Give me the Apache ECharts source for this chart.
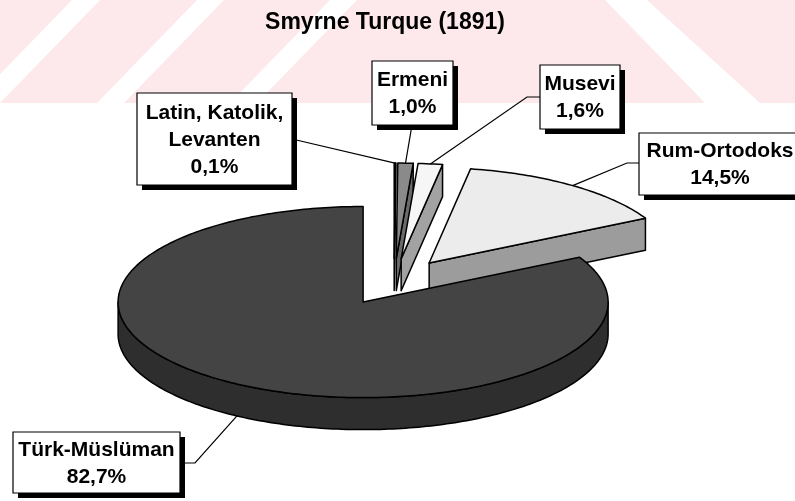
<!DOCTYPE html>
<html>
<head>
<meta charset="utf-8">
<script src="https://cdn.jsdelivr.net/npm/echarts@6/dist/echarts.min.js"></script>
<style>
  html, body { margin: 0; padding: 0; background: #fff; }
  #chart { width: 795px; height: 501px; }
</style>
</head>
<body>
<div id="chart"></div>
<script>
// data
const categories = ['Latin, Katolik,\nLevanten', 'Ermeni', 'Musevi', 'Rum-Ortodoks', 'Türk-Müslüman'];
const shares = [0.1, 1.0, 1.6, 14.5, 82.7];

// looks
const topColors = ['#1e1e1e', '#8a8a8a', '#f6f6f6', '#ececec', '#444444'];
const sideColors = ['#111111', '#6a6a6a', '#a2a2a2', '#9c9c9c', '#2e2e2e'];

// pie geometry (pixels): centre, radius, tilt, explode distance, thickness
const PIE = { cx: 394, cy: 282, r: 245, k: 0.39, explode: 60, depth: 32 };

// label boxes, the point where the leader leaves the box, optional elbow
const LABELS = [
    { x: 137, y: 93, w: 155, h: 92, from: [292, 139] },
    { x: 372, y: 61, w: 81, h: 64, from: [412, 125] },
    { x: 540, y: 65, w: 80, h: 64, from: [540, 97], elbow: [527, 97] },
    { x: 639, y: 133, w: 162, h: 62, from: [639, 163], elbow: [627, 163] },
    { x: 13, y: 432, w: 167, h: 61, from: [180, 463], elbow: [195, 463] }
];

const total = shares.reduce((a, b) => a + b, 0);
const starts = [], ends = [];
let acc = 0;
shares.forEach(v => {
    starts.push(acc / total * Math.PI * 2);
    acc += v;
    ends.push(acc / total * Math.PI * 2);
});

function pt(cx, cy, rad, a, dz) {
    return [cx + rad * Math.sin(a), cy - PIE.k * rad * Math.cos(a) + (dz || 0)];
}

function arc(cx, cy, a0, a1, dz) {
    const n = Math.max(2, Math.ceil((a1 - a0) / (Math.PI / 180)));
    const pts = [];
    for (let i = 0; i <= n; i++) {
        pts.push(pt(cx, cy, PIE.r, a0 + (a1 - a0) * i / n, dz));
    }
    return pts;
}

function fmt(v) {
    return v.toFixed(1).replace('.', ',') + '%';
}

function renderItem(params, api) {
    const i = params.dataIndex;
    const a0 = starts[i], a1 = ends[i];
    const mid = (a0 + a1) / 2;
    const c = pt(PIE.cx, PIE.cy, PIE.explode, mid);
    const cx = c[0], cy = c[1], T = PIE.depth, R = PIE.r;
    const side = { fill: sideColors[i], stroke: '#000', lineWidth: 1.5, lineJoin: 'round' };
    const top = { fill: topColors[i], stroke: '#000', lineWidth: 1.5, lineJoin: 'round' };
    const children = [];

    // radial walls that face the viewer
    if (Math.sin(a0) < -1e-6) {
        children.push({ type: 'polygon', shape: { points: [c, pt(cx, cy, R, a0), pt(cx, cy, R, a0, T), [cx, cy + T]] }, style: side });
    }
    if (Math.sin(a1) > 1e-6) {
        children.push({ type: 'polygon', shape: { points: [c, pt(cx, cy, R, a1), pt(cx, cy, R, a1, T), [cx, cy + T]] }, style: side });
    }
    // front rim
    const s0 = Math.max(a0, Math.PI / 2), s1 = Math.min(a1, Math.PI * 1.5);
    if (s1 > s0) {
        const upper = arc(cx, cy, s0, s1, 0);
        const lower = arc(cx, cy, s0, s1, T).reverse();
        children.push({ type: 'polygon', shape: { points: upper.concat(lower) }, style: side });
    }
    // top face
    children.push({ type: 'polygon', shape: { points: [c].concat(arc(cx, cy, a0, a1, 0)) }, style: top });

    // label with leader line
    const L = LABELS[i];
    const front = Math.cos(mid) < 0;
    const anchor = pt(cx, cy, R, mid, front ? T : 0);
    const line = [L.from];
    if (L.elbow) line.push(L.elbow);
    line.push(anchor);
    children.push({ type: 'polyline', z2: 20, shape: { points: line }, style: { stroke: '#000', lineWidth: 1.2, fill: null } });
    children.push({ type: 'rect', z2: 21, shape: { x: L.x + 5, y: L.y + 5, width: L.w, height: L.h }, style: { fill: '#000' } });
    children.push({ type: 'rect', z2: 22, shape: { x: L.x, y: L.y, width: L.w, height: L.h }, style: { fill: '#fff', stroke: '#000', lineWidth: 1.2 } });
    children.push({
        type: 'text', z2: 23,
        x: L.x + L.w / 2, y: L.y + L.h / 2 + 1,
        style: {
            text: categories[i] + '\n' + fmt(api.value(0)),
            font: 'bold 21px "Liberation Sans", Arial, sans-serif',
            lineHeight: 27,
            fill: '#000',
            align: 'center',
            verticalAlign: 'middle'
        }
    });
    return { type: 'group', children: children };
}

// faint pink watermark band at the top of the scan
const pink = '#fde9ec';
function band(tx0, tx1, bx0, bx1) {
    return { type: 'polygon', z: -10, silent: true, shape: { points: [[tx0, 0], [tx1, 0], [bx1, 103], [bx0, 103]] }, style: { fill: '#fff' } };
}
const watermark = [
    { type: 'rect', z: -11, silent: true, shape: { x: 0, y: 0, width: 795, height: 103 }, style: { fill: pink } },
    band(72, 100, -28, 0),
    band(197, 224, 97, 124),
    band(330, 357, 230, 257),
    band(605, 647, 705, 760)
];

const chart = echarts.init(document.getElementById('chart'), null, { renderer: 'canvas' });
chart.setOption({
    animation: false,
    backgroundColor: '#fff',
    title: {
        text: 'Smyrne Turque (1891)',
        left: 380,
        top: 6,
        textAlign: 'center',
        textStyle: { fontFamily: '"Liberation Sans", Arial, sans-serif', fontSize: 23, fontWeight: 'bold', color: '#000' }
    },
    graphic: watermark,
    series: [{
        type: 'custom',
        coordinateSystem: 'none',
        renderItem: renderItem,
        data: shares.map((v, i) => ({ value: v, name: categories[i] }))
    }]
});
</script>
</body>
</html>
